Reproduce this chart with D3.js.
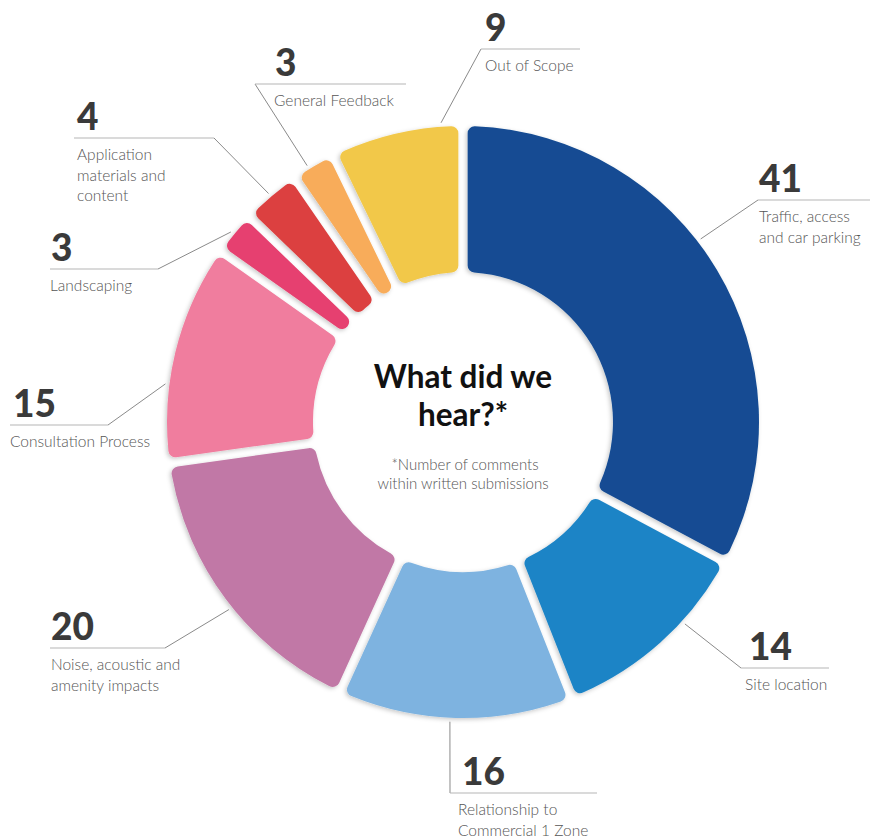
<!DOCTYPE html>
<html>
<head>
<meta charset="utf-8">
<script src="https://cdn.jsdelivr.net/npm/d3@7"></script>
<style>
  html, body { margin: 0; padding: 0; background: #ffffff; }
  svg { display: block; }
</style>
</head>
<body>
<svg id="chart" width="872" height="839"></svg>
<script>
// Submission topics, clockwise from 12 o'clock
const categories = [
  "Traffic, access and car parking",
  "Site location",
  "Relationship to Commercial 1 Zone",
  "Noise, acoustic and amenity impacts",
  "Consultation Process",
  "Landscaping",
  "Application materials and content",
  "General Feedback",
  "Out of Scope"
];
const counts = [41, 14, 16, 20, 15, 3, 4, 3, 9];
// Wrapped label lines for each topic
const labelLines = [
  ["Traffic, access", "and car parking"],
  ["Site location"],
  ["Relationship to", "Commercial 1 Zone"],
  ["Noise, acoustic and", "amenity impacts"],
  ["Consultation Process"],
  ["Landscaping"],
  ["Application", "materials and", "content"],
  ["General Feedback"],
  ["Out of Scope"]
];
const colors = [
  "#144c93", "#1d84c6", "#7eb3e0", "#c178a6", "#f07d9e",
  "#e6416f", "#dc4040", "#f8ac5a", "#f2c84a"
];

// Label placement: rule line (x0..x1 at y), text x, which end of the rule the
// leader starts from, and the angle (deg) where the leader touches the ring.
const labelLayout = [
  { x0: 758, x1: 870, y: 200, tx: 759, numDx: 0, elbow: "left",  tipDeg: 52.4 },
  { x0: 741, x1: 829, y: 668, tx: 745, numDx: 4, elbow: "left",  tipDeg: 132.3 },
  { x0: 450, x1: 597, y: 793, tx: 458, numDx: 4, elbow: "left",  tipDeg: 182.5 },
  { x0: 50,  x1: 165, y: 648, tx: 51,  numDx: 0, elbow: "right", tipDeg: 231.3 },
  { x0: 10,  x1: 108, y: 425, tx: 10,  numDx: 3, elbow: "right", tipDeg: 277.3 },
  { x0: 50,  x1: 158, y: 269, tx: 50,  numDx: 1, elbow: "right", tipDeg: 309.3 },
  { x0: 74,  x1: 214, y: 138, tx: 77,  numDx: 0, elbow: "right", tipDeg: 319.6 },
  { x0: 255, x1: 406, y: 84,  tx: 274, numDx: 1, elbow: "left",  tipDeg: 328.7 },
  { x0: 481, x1: 580, y: 49,  tx: 485, numDx: 0, elbow: "left",  tipDeg: 355.8 }
];

const cx = 463, cy = 422;
const outerR = 296, innerR = 150;

const svg = d3.select("#chart");

// soft shadow under the ring segments
const defs = svg.append("defs");
const f = defs.append("filter").attr("id", "shadow")
  .attr("x", "-10%").attr("y", "-10%").attr("width", "120%").attr("height", "120%");
f.append("feDropShadow")
  .attr("dx", -1.5).attr("dy", 1.5).attr("stdDeviation", 2)
  .attr("flood-color", "#000").attr("flood-opacity", 0.22);

const data = categories.map((c, i) => ({
  category: c, value: counts[i], color: colors[i], lines: labelLines[i], layout: labelLayout[i]
}));

// Slices keep exact proportional boundaries; the gap is cut out of each side.
const pie = d3.pie().sort(null).value(d => d.value).startAngle(0).endAngle(2 * Math.PI);
const arc = d3.arc().innerRadius(innerR).outerRadius(outerR).cornerRadius(7).padAngle(0.028);

const ring = svg.append("g").attr("transform", `translate(${cx},${cy})`);
ring.selectAll("path.slice")
  .data(pie(data))
  .join("path")
  .attr("class", "slice")
  .attr("d", arc)
  .attr("fill", d => d.data.color)
  .attr("filter", "url(#shadow)");

// Labels with leader lines
const numFont = "Lato, 'DejaVu Sans', sans-serif";
const labels = svg.append("g");
data.forEach(d => {
  const L = d.layout;
  const g = labels.append("g");
  const tip = d3.pointRadial(L.tipDeg * Math.PI / 180, outerR + 4);
  const ex = L.elbow === "left" ? L.x0 : L.x1;
  g.append("path")
    .attr("d", d3.line()([[cx + tip[0], cy + tip[1]], [ex, L.y]]))
    .attr("fill", "none").attr("stroke", "#8a8a8a").attr("stroke-width", 1);
  g.append("line")
    .attr("x1", L.x0).attr("x2", L.x1).attr("y1", L.y).attr("y2", L.y)
    .attr("stroke", "#b5b5b5").attr("stroke-width", 1.2);
  g.append("text")
    .attr("x", L.tx + L.numDx).attr("y", L.y - 8)
    .attr("font-family", numFont).attr("font-weight", 900)
    .attr("font-size", 37).attr("fill", "#3a3a3a")
    .text(d.value);
  const t = g.append("text")
    .attr("x", L.tx).attr("y", L.y + 22)
    .attr("font-family", numFont).attr("font-weight", 300)
    .attr("font-size", 15.5).attr("fill", "#555555");
  d.lines.forEach((ln, i) => {
    t.append("tspan").attr("x", L.tx).attr("dy", i === 0 ? 0 : 20.5).text(ln);
  });
});

// Centre title
const centre = svg.append("g").attr("text-anchor", "middle");
centre.append("text").attr("x", cx).attr("y", 388)
  .attr("font-family", numFont).attr("font-weight", 700)
  .attr("font-size", 31.5).attr("fill", "#111").text("What did we");
centre.append("text").attr("x", cx).attr("y", 426)
  .attr("font-family", numFont).attr("font-weight", 700)
  .attr("font-size", 31.5).attr("fill", "#111").text("hear?*");
centre.append("text").attr("x", cx + 2).attr("y", 470)
  .attr("font-family", numFont).attr("font-weight", 300)
  .attr("font-size", 15).attr("fill", "#555").text("*Number of comments");
centre.append("text").attr("x", cx).attr("y", 489)
  .attr("font-family", numFont).attr("font-weight", 300)
  .attr("font-size", 15).attr("fill", "#555").text("within written submissions");
</script>
</body>
</html>
